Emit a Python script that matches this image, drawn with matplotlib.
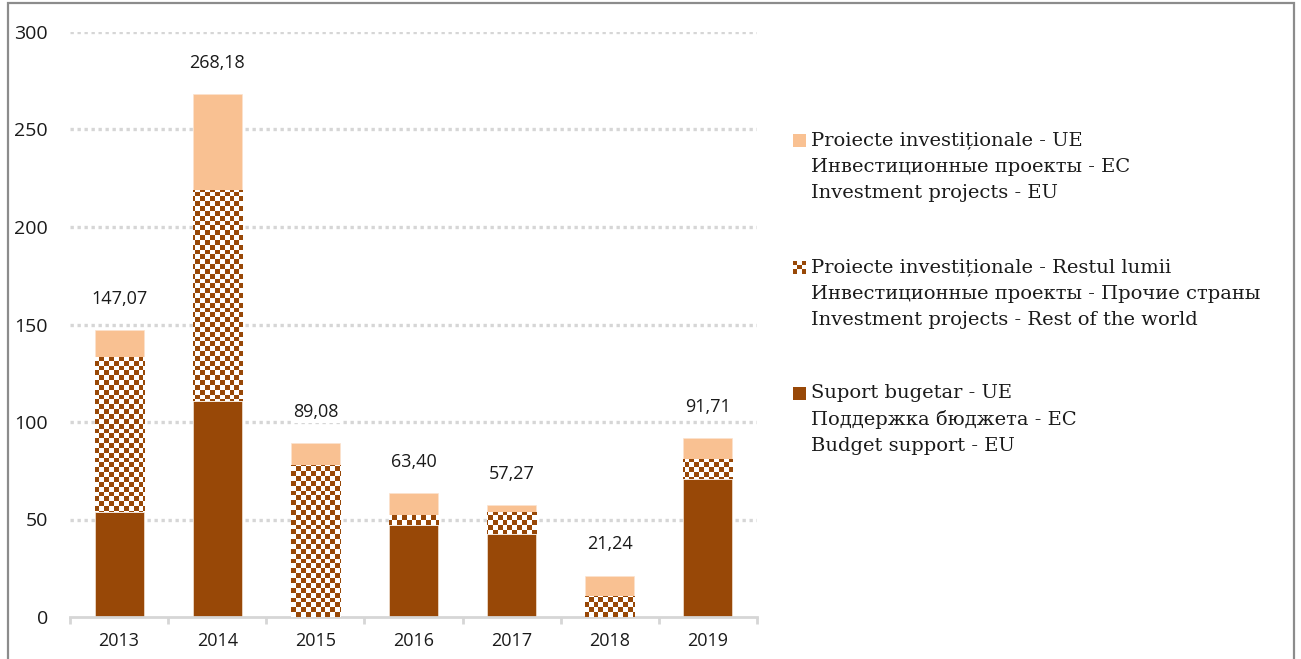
import numpy as np
import matplotlib
matplotlib.use('Agg')
import matplotlib.pyplot as plt
from matplotlib.colors import ListedColormap
from matplotlib.patches import Rectangle

# asistenta externa pe ani (mil.)
years = ['2013', '2014', '2015', '2016', '2017', '2018', '2019']
budget = [54.0, 110.8, 0.0, 47.0, 42.6, 0.0, 70.8]       # Suport bugetar - UE
rest_world = [79.3, 108.2, 78.0, 5.5, 11.2, 10.8, 10.2]  # Proiecte - Restul lumii
eu_proj = [13.77, 49.18, 11.08, 10.9, 3.47, 10.44, 10.71]  # Proiecte - UE
yticks = [0, 50, 100, 150, 200, 250, 300]

legend_lines = [
    ['Proiecte investiționale - UE',
     'Инвестиционные проекты - ЕС',
     'Investment projects - EU'],
    ['Proiecte investiționale - Restul lumii',
     'Инвестиционные проекты - Прочие страны',
     'Investment projects - Rest of the world'],
    ['Suport bugetar - UE',
     'Поддержка бюджета - ЕС',
     'Budget support - EU'],
]

brown = '#984807'
peach = '#f9c192'
grid_c = '#d6d6d6'
sans = ['Open Sans', 'DejaVu Sans']
serif = ['DejaVu Serif']

W, H = 1301, 659
fig = plt.figure(figsize=(W / 100, H / 100), dpi=100)
ax_l, ax_r, ax_b, ax_t = 70, 757, 617, 32
ax = fig.add_axes([ax_l / W, 1 - ax_b / H, (ax_r - ax_l) / W, (ax_b - ax_t) / H])

x = np.arange(len(years))
budget = np.array(budget)
rest_world = np.array(rest_world)
eu_proj = np.array(eu_proj)
totals = budget + rest_world + eu_proj
bw = 0.5

ax.set_xlim(-0.5, len(years) - 0.5)
ax.set_ylim(0, 300)

# grid
for v in yticks[1:]:
    ax.axhline(v, color=grid_c, lw=2.4, linestyle=(0, (1, 1.1)), zorder=0)

ax.bar(x, budget, bw, color=brown, edgecolor='#f3e4d6', lw=0.5, zorder=2)
checker_bars = ax.bar(x, rest_world, bw, bottom=budget, color='white',
                      edgecolor='#f3e4d6', lw=0.5, zorder=2)
ax.bar(x, eu_proj, bw, bottom=budget + rest_world, color=peach,
       edgecolor='#fbe3cf', lw=0.5, zorder=2)

# checkerboard fill for "rest of the world"
cell = 4.8
nx = int((ax_r - ax_l) / cell)
ny = int((ax_b - ax_t) / cell)
board = (np.add.outer(np.arange(ny), np.arange(nx)) % 2).astype(float)
cmap = ListedColormap(['white', brown])
for b in checker_bars:
    if b.get_height() <= 0:
        continue
    im = ax.imshow(board, cmap=cmap, extent=(-0.5, len(years) - 0.5, 0, 300),
                   aspect='auto', interpolation='nearest', zorder=3)
    im.set_clip_path(b)
ax.set_xlim(-0.5, len(years) - 0.5)
ax.set_ylim(0, 300)

# totals above bars
for xi, t in zip(x, totals):
    lbl = f'{t:.2f}'.replace('.', ',')
    ax.annotate(lbl, (xi, t), xytext=(0, 16), textcoords='offset points',
                ha='center', va='bottom', fontsize=13, family=sans,
                color='#1a1a1a', zorder=5,
                bbox=dict(boxstyle='square,pad=0.1', fc='white', ec='none'))

for s in ['top', 'right', 'left']:
    ax.spines[s].set_visible(False)
ax.spines['bottom'].set_color(grid_c)
ax.spines['bottom'].set_linewidth(2)

ax.set_xticks(x)
ax.set_xticklabels(years, family=sans, fontsize=13, color='#1a1a1a')
ax.set_xticks(np.arange(-0.5, len(years)), minor=True)
ax.tick_params(axis='x', which='major', length=0, pad=11)
ax.tick_params(axis='x', which='minor', length=5, width=2, color=grid_c,
               direction='out')
ax.set_yticks(yticks)
ax.set_yticklabels([str(v) for v in yticks], family=sans, fontsize=14,
                   color='#1a1a1a')
ax.tick_params(axis='y', length=0, pad=16)

# legend drawn by hand: square marker next to the first of three lines
def px(xp, yp):
    return xp / W, 1 - yp / H

entry_top = [140, 267, 393]
pitch = 26.6
for k, lines in enumerate(legend_lines):
    y0 = entry_top[k]
    sx, sy = 793, y0 - 6.5
    if k == 1:
        n = 3
        s = 13 / n
        for i in range(n):
            for j in range(n):
                c = brown if (i + j) % 2 == 0 else 'white'
                fx, fy = px(sx + j * s, sy + (i + 1) * s)
                fig.add_artist(Rectangle((fx, fy), s / W, s / H, color=c,
                                         transform=fig.transFigure, lw=0))
    else:
        c = peach if k == 0 else brown
        fx, fy = px(sx, sy + 13)
        fig.add_artist(Rectangle((fx, fy), 13 / W, 13 / H, color=c,
                                 transform=fig.transFigure, lw=0))
    for i, line in enumerate(lines):
        tx, ty = px(811, y0 + i * pitch)
        fig.text(tx, ty, line, family=serif, fontsize=14, color='#1a1a1a',
                 ha='left', va='center')

# frame around the figure
fx0, fy0 = px(8, H + 5)
fx1, fy1 = px(1294, 3)
fig.add_artist(Rectangle((fx0, fy0), fx1 - fx0, fy1 - fy0, fill=False,
                         ec='#8c8c8c', lw=1.6, transform=fig.transFigure))

plt.savefig('out.png', dpi=100)
